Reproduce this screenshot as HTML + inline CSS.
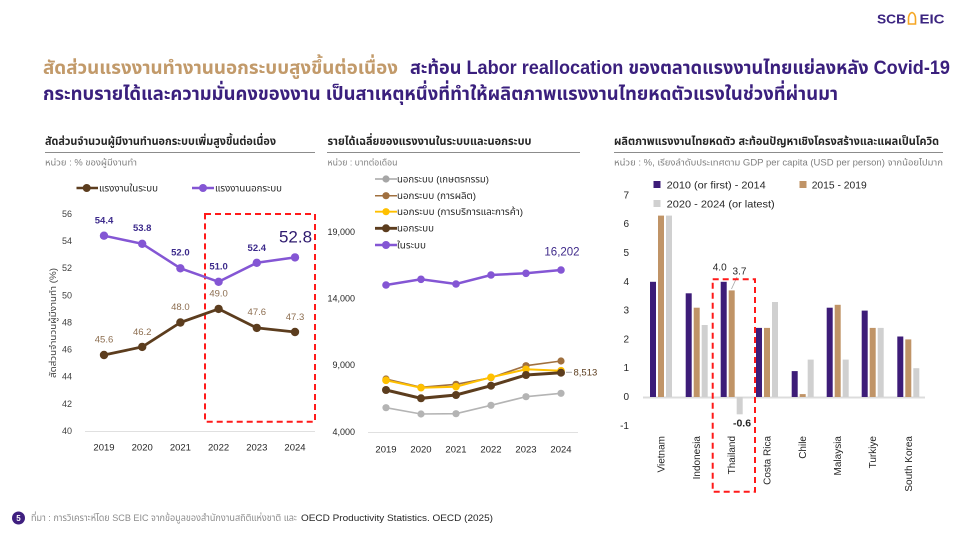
<!DOCTYPE html>
<html><head><meta charset="utf-8"><style>
html,body{margin:0;padding:0;background:#fff;}
svg{display:block;}
.th{font-family:"Liberation Sans","Noto Sans Thai","Loma","Garuda","Waree","DejaVu Sans",sans-serif;}
.lt{font-family:"Liberation Sans","DejaVu Sans",sans-serif;}
</style></head><body>
<svg width="960" height="540" viewBox="0 0 960 540" xmlns="http://www.w3.org/2000/svg">
<rect width="960" height="540" fill="#fff"/>

<!-- Logo -->
<text x="877" y="23.5" class="lt" font-size="12.5" font-weight="bold" fill="#3B2480" textLength="29" lengthAdjust="spacingAndGlyphs">SCB</text>
<path d="M908.5 24 L908.5 19 Q908.5 13.5 912 12.5 Q915.5 13.5 915.5 19 L915.5 24 Z" fill="none" stroke="#F5A623" stroke-width="1.6"/>
<text x="919.5" y="23.5" class="lt" font-size="12.5" font-weight="bold" fill="#3B2480" textLength="25" lengthAdjust="spacingAndGlyphs">EIC</text>

<!-- Header -->
<text y="74" class="th" font-size="19" font-weight="bold">
<tspan x="43" fill="#C29A6A" textLength="355" lengthAdjust="spacingAndGlyphs">สัดส่วนแรงงานทำงานนอกระบบสูงขึ้นต่อเนื่อง</tspan>
<tspan x="410" fill="#3A1F7D" textLength="540" lengthAdjust="spacingAndGlyphs">สะท้อน Labor reallocation ของตลาดแรงงานไทยแย่ลงหลัง Covid-19</tspan>
</text>
<text x="43" y="100" class="th" font-size="19" font-weight="bold" fill="#3A1F7D" textLength="795" lengthAdjust="spacingAndGlyphs">กระทบรายได้และความมั่นคงของงาน เป็นสาเหตุหนึ่งที่ทำให้ผลิตภาพแรงงานไทยหดตัวแรงในช่วงที่ผ่านมา</text>

<!-- ============ LEFT CHART ============ -->
<text x="45" y="145" class="th" font-size="11.5" font-weight="bold" fill="#262626" textLength="231" lengthAdjust="spacingAndGlyphs">สัดส่วนจำนวนผู้มีงานทำนอกระบบเพิ่มสูงขึ้นต่อเนื่อง</text>
<line x1="45" y1="152.5" x2="315" y2="152.5" stroke="#8c8c8c" stroke-width="1"/>
<text x="45" y="165.5" class="th" font-size="9" fill="#7f7f7f" textLength="92" lengthAdjust="spacingAndGlyphs">หน่วย : % ของผู้มีงานทำ</text>

<!-- legend -->
<line x1="76.5" y1="188" x2="98" y2="188" stroke="#5C3D1E" stroke-width="2.5"/>
<circle cx="86.7" cy="188" r="4" fill="#5C3D1E"/>
<text x="99" y="191.5" class="th" font-size="9.5" fill="#262626" textLength="59" lengthAdjust="spacingAndGlyphs">แรงงานในระบบ</text>
<line x1="192" y1="188" x2="214" y2="188" stroke="#8456D4" stroke-width="2.5"/>
<circle cx="203" cy="188" r="4" fill="#8456D4"/>
<text x="215" y="191.5" class="th" font-size="9.5" fill="#262626" textLength="67" lengthAdjust="spacingAndGlyphs">แรงงานนอกระบบ</text>

<!-- y axis labels -->
<g class="lt" font-size="9" fill="#404040" text-anchor="end">
<text x="72" y="217">56</text>
<text x="72" y="244">54</text>
<text x="72" y="271.2">52</text>
<text x="72" y="298.3">50</text>
<text x="72" y="325.4">48</text>
<text x="72" y="352.5">46</text>
<text x="72" y="379.6">44</text>
<text x="72" y="406.8">42</text>
<text x="72" y="434">40</text>
</g>
<text transform="translate(56,378) rotate(-90)" class="th" font-size="9" fill="#404040" textLength="110" lengthAdjust="spacingAndGlyphs">สัดส่วนจำนวนผู้มีงานทำ (%)</text>
<line x1="85" y1="431.5" x2="315" y2="431.5" stroke="#e0e0e0" stroke-width="1"/>
<g class="lt" font-size="9.5" fill="#262626" text-anchor="middle">
<text x="104" y="450.5">2019</text>
<text x="142.2" y="450.5">2020</text>
<text x="180.4" y="450.5">2021</text>
<text x="218.6" y="450.5">2022</text>
<text x="256.8" y="450.5">2023</text>
<text x="295" y="450.5">2024</text>
</g>

<!-- dashed box -->
<rect x="205" y="214" width="110" height="207.7" fill="none" stroke="#FF1A1A" stroke-width="2" stroke-dasharray="6,4"/>

<!-- purple series -->
<polyline points="104,235.7 142.2,243.8 180.4,268.3 218.6,281.8 256.8,262.8 295,257.4" fill="none" stroke="#8456D4" stroke-width="2.5" stroke-linejoin="round"/>
<g fill="#8456D4">
<circle cx="104" cy="235.7" r="4.2"/><circle cx="142.2" cy="243.8" r="4.2"/><circle cx="180.4" cy="268.3" r="4.2"/>
<circle cx="218.6" cy="281.8" r="4.2"/><circle cx="256.8" cy="262.8" r="4.2"/><circle cx="295" cy="257.4" r="4.2"/>
</g>
<!-- brown series -->
<polyline points="104,355 142.2,346.9 180.4,322.5 218.6,308.9 256.8,327.9 295,332" fill="none" stroke="#5C3D1E" stroke-width="2.8" stroke-linejoin="round"/>
<g fill="#5C3D1E">
<circle cx="104" cy="355" r="4.2"/><circle cx="142.2" cy="346.9" r="4.2"/><circle cx="180.4" cy="322.5" r="4.2"/>
<circle cx="218.6" cy="308.9" r="4.2"/><circle cx="256.8" cy="327.9" r="4.2"/><circle cx="295" cy="332" r="4.2"/>
</g>
<g class="lt" font-size="9.5" font-weight="bold" fill="#3D2B8C" text-anchor="middle">
<text x="104" y="223.5">54.4</text>
<text x="142.2" y="231">53.8</text>
<text x="180.4" y="255.5">52.0</text>
<text x="218.6" y="269.5">51.0</text>
<text x="256.8" y="251">52.4</text>
</g>
<text x="295.5" y="242.5" class="lt" font-size="17" fill="#2E1A6E" text-anchor="middle">52.8</text>
<g class="lt" font-size="9.5" fill="#8C6D4F" text-anchor="middle">
<text x="104" y="342.5">45.6</text>
<text x="142.2" y="335">46.2</text>
<text x="180.4" y="310">48.0</text>
<text x="218.6" y="296.5">49.0</text>
<text x="256.8" y="315">47.6</text>
<text x="295" y="320">47.3</text>
</g>

<!-- ============ MIDDLE CHART ============ -->
<text x="327.5" y="145" class="th" font-size="11.5" font-weight="bold" fill="#262626" textLength="204" lengthAdjust="spacingAndGlyphs">รายได้เฉลี่ยของแรงงานในระบบและนอกระบบ</text>
<line x1="327" y1="152.5" x2="580" y2="152.5" stroke="#8c8c8c" stroke-width="1"/>
<text x="327.5" y="165.5" class="th" font-size="9" fill="#7f7f7f" textLength="70" lengthAdjust="spacingAndGlyphs">หน่วย : บาทต่อเดือน</text>

<!-- legend -->
<g>
<line x1="375" y1="179" x2="397" y2="179" stroke="#A6A6A6" stroke-width="1.5"/><circle cx="386" cy="179" r="3.6" fill="#A6A6A6"/>
<line x1="375" y1="195.7" x2="397" y2="195.7" stroke="#A0703F" stroke-width="1.5"/><circle cx="386" cy="195.7" r="3.6" fill="#A0703F"/>
<line x1="375" y1="211.7" x2="397" y2="211.7" stroke="#FFC000" stroke-width="1.8"/><circle cx="386" cy="211.7" r="3.6" fill="#FFC000"/>
<line x1="375" y1="228.3" x2="397" y2="228.3" stroke="#5C3D1E" stroke-width="2.8"/><circle cx="386" cy="228.3" r="4" fill="#5C3D1E"/>
<line x1="375" y1="245" x2="397" y2="245" stroke="#8456D4" stroke-width="2.5"/><circle cx="386" cy="245" r="4" fill="#8456D4"/>
</g>
<g class="th" font-size="9.5" fill="#262626">
<text x="397" y="182.5" textLength="92" lengthAdjust="spacingAndGlyphs">นอกระบบ (เกษตรกรรม)</text>
<text x="397" y="199" textLength="79" lengthAdjust="spacingAndGlyphs">นอกระบบ (การผลิต)</text>
<text x="397" y="215" textLength="126" lengthAdjust="spacingAndGlyphs">นอกระบบ (การบริการและการค้า)</text>
<text x="397" y="231.7" textLength="37" lengthAdjust="spacingAndGlyphs">นอกระบบ</text>
<text x="397" y="248.5" textLength="29" lengthAdjust="spacingAndGlyphs">ในระบบ</text>
</g>

<g class="lt" font-size="9" fill="#262626" text-anchor="end">
<text x="355" y="235">19,000</text>
<text x="355" y="301.5">14,000</text>
<text x="355" y="368">9,000</text>
<text x="355" y="435">4,000</text>
</g>
<line x1="368" y1="432.5" x2="578" y2="432.5" stroke="#e0e0e0" stroke-width="1"/>
<g class="lt" font-size="9.5" fill="#262626" text-anchor="middle">
<text x="386" y="452.5">2019</text>
<text x="421" y="452.5">2020</text>
<text x="456" y="452.5">2021</text>
<text x="491" y="452.5">2022</text>
<text x="526" y="452.5">2023</text>
<text x="561" y="452.5">2024</text>
</g>

<!-- gray -->
<polyline points="386,407.7 421,414 456,413.7 491,405.3 526,396.7 561,393.3" fill="none" stroke="#B4B4B4" stroke-width="1.6"/>
<g fill="#B4B4B4"><circle cx="386" cy="407.7" r="3.6"/><circle cx="421" cy="414" r="3.6"/><circle cx="456" cy="413.7" r="3.6"/><circle cx="491" cy="405.3" r="3.6"/><circle cx="526" cy="396.7" r="3.6"/><circle cx="561" cy="393.3" r="3.6"/></g>
<!-- manufacturing -->
<polyline points="386,379 421,387.3 456,384.3 491,377.7 526,365.7 561,361" fill="none" stroke="#A0703F" stroke-width="1.6"/>
<g fill="#A0703F"><circle cx="386" cy="379" r="3.6"/><circle cx="421" cy="387.3" r="3.6"/><circle cx="456" cy="384.3" r="3.6"/><circle cx="491" cy="377.7" r="3.6"/><circle cx="526" cy="365.7" r="3.6"/><circle cx="561" cy="361" r="3.6"/></g>
<!-- services -->
<polyline points="386,380.3 421,387.7 456,386.7 491,377.3 526,369.3 561,370.7" fill="none" stroke="#FFC000" stroke-width="2"/>
<g fill="#FFC000"><circle cx="386" cy="380.3" r="3.8"/><circle cx="421" cy="387.7" r="3.8"/><circle cx="456" cy="386.7" r="3.8"/><circle cx="491" cy="377.3" r="3.8"/><circle cx="526" cy="369.3" r="3.8"/><circle cx="561" cy="370.7" r="3.8"/></g>
<!-- informal total -->
<polyline points="386,390 421,398.3 456,395 491,385.7 526,375 561,372.7" fill="none" stroke="#5C3D1E" stroke-width="3"/>
<g fill="#5C3D1E"><circle cx="386" cy="390" r="4"/><circle cx="421" cy="398.3" r="4"/><circle cx="456" cy="395" r="4"/><circle cx="491" cy="385.7" r="4"/><circle cx="526" cy="375" r="4"/><circle cx="561" cy="372.7" r="4"/></g>
<!-- formal -->
<polyline points="386,285 421,279.3 456,284 491,275 526,273.3 561,270" fill="none" stroke="#8456D4" stroke-width="2.5"/>
<g fill="#8456D4"><circle cx="386" cy="285" r="3.8"/><circle cx="421" cy="279.3" r="3.8"/><circle cx="456" cy="284" r="3.8"/><circle cx="491" cy="275" r="3.8"/><circle cx="526" cy="273.3" r="3.8"/><circle cx="561" cy="270" r="3.8"/></g>

<text x="562" y="255.5" class="lt" font-size="11.5" fill="#3F2A8A" text-anchor="middle">16,202</text>
<line x1="566" y1="372.3" x2="572" y2="372.3" stroke="#A6A6A6" stroke-width="1"/>
<text x="573.5" y="375.5" class="lt" font-size="9.5" fill="#5C3D1E">8,513</text>

<!-- ============ RIGHT CHART ============ -->
<text x="614" y="145" class="th" font-size="11.5" font-weight="bold" fill="#262626" textLength="325" lengthAdjust="spacingAndGlyphs">ผลิตภาพแรงงานไทยหดตัว สะท้อนปัญหาเชิงโครงสร้างและแผลเป็นโควิด</text>
<line x1="614" y1="152.5" x2="943" y2="152.5" stroke="#8c8c8c" stroke-width="1"/>
<text x="614" y="165.5" class="th" font-size="9" fill="#7f7f7f" textLength="329" lengthAdjust="spacingAndGlyphs">หน่วย : %, เรียงลำดับประเทศตาม GDP per capita (USD per person) จากน้อยไปมาก</text>

<!-- legend -->
<rect x="653.5" y="181" width="7" height="7" fill="#3D1C78"/>
<text x="666.7" y="188.5" class="lt" font-size="10.5" fill="#262626" textLength="99" lengthAdjust="spacingAndGlyphs">2010 (or first) - 2014</text>
<rect x="799.5" y="181" width="7" height="7" fill="#C09467"/>
<text x="811.7" y="188.5" class="lt" font-size="10.5" fill="#262626" textLength="55" lengthAdjust="spacingAndGlyphs">2015 - 2019</text>
<rect x="653.5" y="200" width="7" height="7" fill="#D0D0D0"/>
<text x="666.7" y="207.5" class="lt" font-size="10.5" fill="#262626" textLength="108" lengthAdjust="spacingAndGlyphs">2020 - 2024 (or latest)</text>

<g class="lt" font-size="10" fill="#262626" text-anchor="end">
<text x="629" y="198.5">7</text>
<text x="629" y="227">6</text>
<text x="629" y="256">5</text>
<text x="629" y="285">4</text>
<text x="629" y="313.5">3</text>
<text x="629" y="342.5">2</text>
<text x="629" y="371">1</text>
<text x="629" y="400">0</text>
<text x="629" y="429">-1</text>
</g>
<line x1="643" y1="397.5" x2="925" y2="397.5" stroke="#dcdcdc" stroke-width="2"/>

<g fill="#3D1C78">
<rect x="650" y="281.8" width="6" height="115.2"/>
<rect x="685.7" y="293.3" width="6" height="103.7"/>
<rect x="720.7" y="281.8" width="6" height="115.2"/>
<rect x="756" y="327.9" width="6" height="69.1"/>
<rect x="791.7" y="371.1" width="6" height="25.9"/>
<rect x="826.7" y="307.7" width="6" height="89.3"/>
<rect x="861.7" y="310.6" width="6" height="86.4"/>
<rect x="897.3" y="336.5" width="6" height="60.5"/>
</g>
<g fill="#C09467">
<rect x="658" y="215.6" width="6" height="181.4"/>
<rect x="693.7" y="307.7" width="6" height="89.3"/>
<rect x="728.7" y="290.4" width="6" height="106.6"/>
<rect x="764" y="327.9" width="6" height="69.1"/>
<rect x="799.7" y="394.1" width="6" height="2.9"/>
<rect x="834.7" y="304.8" width="6" height="92.2"/>
<rect x="869.7" y="327.9" width="6" height="69.1"/>
<rect x="905.3" y="339.4" width="6" height="57.6"/>
</g>
<g fill="#D0D0D0">
<rect x="666" y="215.6" width="6" height="181.4"/>
<rect x="701.7" y="325" width="6" height="72"/>
<rect x="736.7" y="397" width="6" height="17.3"/>
<rect x="772" y="302" width="6" height="95"/>
<rect x="807.7" y="359.6" width="6" height="37.4"/>
<rect x="842.7" y="359.6" width="6" height="37.4"/>
<rect x="877.7" y="327.9" width="6" height="69.1"/>
<rect x="913.3" y="368.2" width="6" height="28.8"/>
</g>

<text x="719.7" y="270.5" class="lt" font-size="10" fill="#262626" text-anchor="middle">4.0</text>
<text x="739.5" y="274.5" class="lt" font-size="10" fill="#262626" text-anchor="middle">3.7</text>
<line x1="737" y1="277" x2="731.5" y2="289" stroke="#A6A6A6" stroke-width="0.8"/>
<text x="742" y="426.5" class="lt" font-size="10.5" font-weight="bold" fill="#262626" text-anchor="middle">-0.6</text>

<rect x="712.7" y="279.3" width="42.3" height="212.4" fill="none" stroke="#FF1A1A" stroke-width="2" stroke-dasharray="6,4"/>

<g class="lt" font-size="10" fill="#262626" text-anchor="end">
<text transform="translate(664.5,436) rotate(-90)">Vietnam</text>
<text transform="translate(700.2,436) rotate(-90)">Indonesia</text>
<text transform="translate(735.2,436) rotate(-90)">Thailand</text>
<text transform="translate(770.5,436) rotate(-90)">Costa Rica</text>
<text transform="translate(806.2,436) rotate(-90)">Chile</text>
<text transform="translate(841.2,436) rotate(-90)">Malaysia</text>
<text transform="translate(876.2,436) rotate(-90)">Turkiye</text>
<text transform="translate(911.8,436) rotate(-90)">South Korea</text>
</g>

<!-- Footer -->
<circle cx="18.5" cy="518" r="6.5" fill="#3F1F7F"/>
<text x="18.5" y="521" class="lt" font-size="8" font-weight="bold" fill="#fff" text-anchor="middle">5</text>
<text y="521" class="th" font-size="9.5">
<tspan x="31" fill="#8c8c8c" textLength="266" lengthAdjust="spacingAndGlyphs">ที่มา : การวิเคราะห์โดย SCB EIC จากข้อมูลของสำนักงานสถิติแห่งชาติ และ</tspan>
<tspan x="301" fill="#262626" textLength="192" lengthAdjust="spacingAndGlyphs">OECD Productivity Statistics. OECD (2025)</tspan>
</text>
</svg>
</body></html>
